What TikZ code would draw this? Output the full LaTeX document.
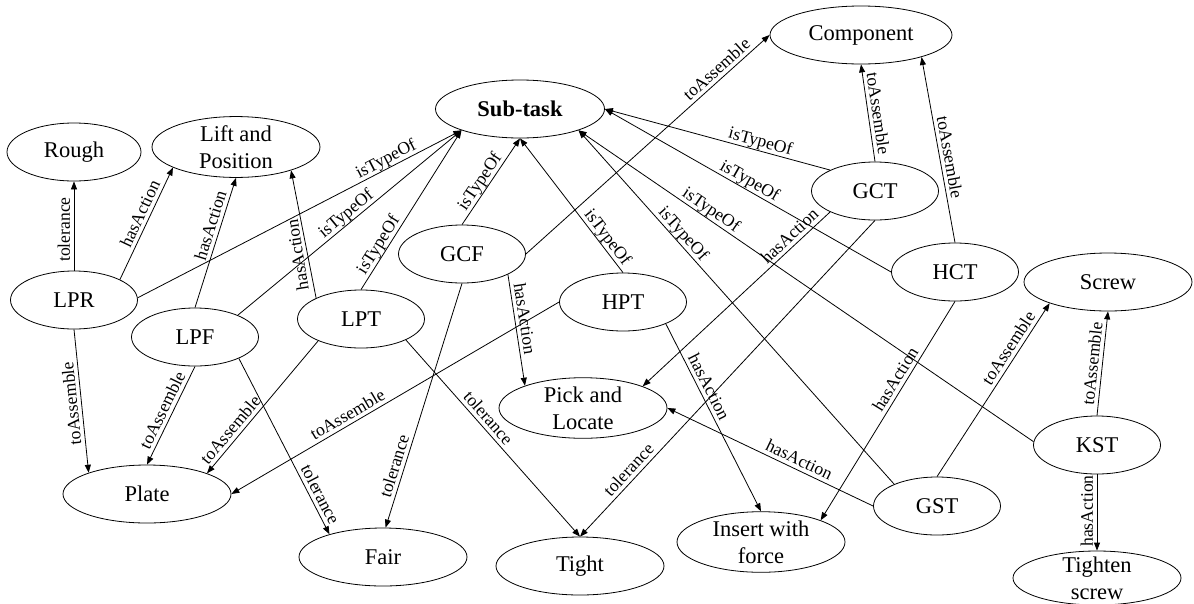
\documentclass[tikz,border=0pt]{standalone}
\usepackage{fontspec}
\setmainfont{Liberation Serif}
\usetikzlibrary{shapes.geometric,arrows.meta}
\newcommand\entfont{\fontsize{22.5pt}{27pt}\selectfont}
\newcommand\relfont{\fontsize{17.6pt}{20pt}\selectfont}
\begin{document}
\begin{tikzpicture}[x=1pt,y=-1pt,
  ent/.style={draw, ellipse, line width=0.8pt, inner sep=0pt, minimum height=58pt, align=center, font=\entfont},
  entS/.style={ent, minimum width=127pt},
  entL/.style={ent, minimum width=168pt},
  rel/.style={line width=0.8pt, -{Triangle[length=8pt,width=6pt]}},
  lab/.style={font=\relfont, sloped, above, inner sep=0.8pt, text height=12.5pt, text depth=3pt},
  labv/.style={font=\relfont, rotate=#1, anchor=south, inner sep=0.8pt, text height=12.5pt, text depth=3pt},
]
\useasboundingbox (0,0) rectangle (1194,603);

% concepts
\node[entS, minimum width=134pt] (Rough) at (74,152) {Rough};
\node[entL] (Lift) at (236,147) {Lift and\\Position};
\node[entL, minimum width=169pt] (Sub) at (520,109) {\textbf{Sub-task}};
\node[entL, minimum width=182pt] (Comp) at (861,35) {Component};
\node[entL] (Screw) at (1108,282) {Screw};
\node[entL] (Pick) at (583,408) {Pick and\\Locate};
\node[entL] (Plate) at (147,494) {Plate};
\node[entL] (Fair) at (383,557) {Fair};
\node[entL] (Tight) at (580,566) {Tight};
\node[entL] (Insert) at (761,542) {Insert with\\force};
\node[entL, minimum height=54pt, inner ysep=-5pt] (Tighten) at (1097,578) {Tighten\\screw};

% task instances
\node[entS] (LPR) at (74,300) {LPR};
\node[entS] (LPF) at (195,337) {LPF};
\node[entS] (LPT) at (361,319) {LPT};
\node[entS] (GCF) at (462,254) {GCF};
\node[entS] (HPT) at (623,302) {HPT};
\node[entS] (GCT) at (875,191) {GCT};
\node[entS] (HCT) at (955,272) {HCT};
\node[entS] (KST) at (1097,445) {KST};
\node[entS] (GST) at (937,506) {GST};

% LPR
\draw[rel] (LPR.north) -- node[lab,pos=.46]{tolerance} (Rough.south);
\draw[rel] (LPR.24) -- node[lab,pos=.55]{hasAction} (Lift.198);
\draw[rel] (LPR.2) -- node[lab,pos=.78]{isTypeOf} (Sub.200);
\draw[rel] (LPR.south) -- node[labv=95.6,pos=.51]{toAssemble} (Plate.160);
% LPF
\draw[rel] (LPF.north) -- node[lab,pos=.61]{hasAction} (Lift.south);
\draw[rel] (LPF.27) -- node[lab,pos=.51]{isTypeOf} (Sub.200);
\draw[rel] (LPF.south) -- node[lab,pos=.49]{toAssemble} (Plate.north);
\draw[rel] (LPF.-26) -- node[lab,pos=.80]{tolerance} (Fair.157);
% LPT
\draw[rel] (LPT.155) -- node[labv=99,pos=.35]{hasAction} (Lift.-23);
\draw[rel] (LPT.north) -- node[lab,pos=.25]{isTypeOf} (Sub.200);
\draw[rel] (LPT.207) -- node[lab,pos=.72]{toAssemble} (Plate.19);
\draw[rel] (LPT.-25) -- node[lab,pos=.43]{tolerance} (Tight.north);
% GCF
\draw[rel] (GCF.north) -- node[lab,pos=.44]{isTypeOf} (Sub.south);
\draw[rel] (GCF.east) -- node[lab,pos=.81]{toAssemble} (Comp.west);
\draw[rel] (GCF.-24) -- node[lab,pos=.41]{hasAction} (Pick.159);
\draw[rel] (GCF.south) -- node[lab,pos=.76]{tolerance} (Fair.85);
% HPT
\draw[rel] (HPT.north) -- node[lab,pos=.22]{isTypeOf} (Sub.south);
\draw[rel] (HPT.west) -- node[lab,pos=.63]{toAssemble} (Plate.east);
\draw[rel] (HPT.-27) -- node[lab,pos=.36]{hasAction} (Insert.north);
% GCT
\draw[rel] (GCT.155) -- node[lab,pos=.32]{isTypeOf} (Sub.east);
\draw[rel] (GCT.north) -- node[lab,pos=.48]{toAssemble} (Comp.south);
\draw[rel] (GCT.205) -- node[lab,pos=.18]{hasAction} (Pick.20);
\draw[rel] (GCT.south) -- node[lab,pos=.81]{tolerance} (Tight.north);
% HCT
\draw[rel] (HCT.west) -- node[lab,pos=.51]{isTypeOf} (Sub.east);
\draw[rel] (HCT.north) -- node[lab,pos=.45]{toAssemble} (Comp.-20);
\draw[rel] (HCT.south) -- node[lab,pos=.38]{hasAction} (Insert.20);
% GST
\draw[rel] (GST.153) -- node[lab,pos=.69]{isTypeOf} (Sub.340);
\draw[rel] (GST.west) -- node[lab,pos=.38]{hasAction} (Pick.east);
\draw[rel] (GST.north) -- node[lab,pos=.71]{toAssemble} (Screw.200);
% KST
\draw[rel] (KST.177) -- node[lab,pos=.72]{isTypeOf} (Sub.340);
\draw[rel] (KST.north) -- node[lab,pos=.49]{toAssemble} (Screw.south);
\draw[rel] (KST.south) -- node[labv=90,pos=.48]{hasAction} (Tighten.north);
\end{tikzpicture}
\end{document}
